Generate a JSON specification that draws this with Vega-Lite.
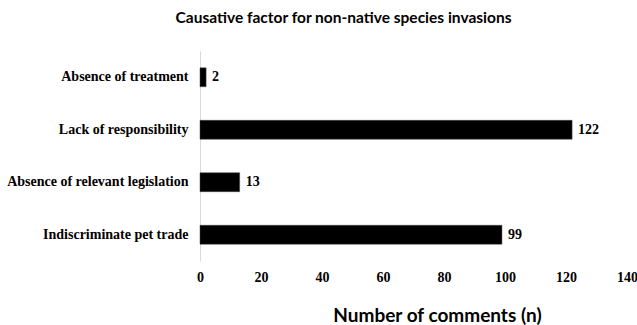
{
  "$schema": "https://vega.github.io/schema/vega-lite/v6.json",
  "autosize": {"type": "none"},
  "width": 427,
  "height": 210,
  "padding": {"left": 200, "top": 51, "right": 10, "bottom": 64},
  "background": "white",
  "title": {
    "text": "Causative factor for non-native species invasions",
    "font": "Lato",
    "fontSize": 15.5,
    "fontWeight": "bold",
    "color": "#000000",
    "anchor": "middle",
    "dx": -70,
    "offset": 25
  },
  "data": {
    "values": [
      {"factor": "Absence of treatment", "n": 2},
      {"factor": "Lack of responsibility", "n": 122},
      {"factor": "Absence of relevant legislation", "n": 13},
      {"factor": "Indiscriminate pet trade", "n": 99}
    ]
  },
  "encoding": {
    "y": {
      "field": "factor",
      "type": "nominal",
      "sort": null,
      "scale": {"paddingInner": 0.64, "paddingOuter": 0.32},
      "axis": {
        "title": null,
        "labelFont": "Liberation Serif",
        "labelFontSize": 14,
        "labelFontWeight": "bold",
        "labelColor": "#000000",
        "labelPadding": 12,
        "labelLimit": 250,
        "ticks": false,
        "domain": true,
        "domainColor": "#d9d9d9",
        "domainWidth": 1,
        "grid": false
      }
    },
    "x": {
      "field": "n",
      "type": "quantitative",
      "scale": {"domain": [0, 140], "nice": false},
      "axis": {
        "values": [0, 20, 40, 60, 80, 100, 120, 140],
        "title": "Number of comments (n)",
        "titleFont": "Lato",
        "titleFontSize": 19,
        "titleFontWeight": "bold",
        "titleColor": "#000000",
        "titleX": 237,
        "titleY": 54,
        "titleAlign": "center",
        "titleBaseline": "middle",
        "labelFont": "Liberation Serif",
        "labelFontSize": 14,
        "labelFontWeight": "bold",
        "labelColor": "#000000",
        "labelPadding": 9,
        "labelFlush": false,
        "ticks": false,
        "domain": false,
        "grid": false
      }
    }
  },
  "layer": [
    {
      "mark": {"type": "bar", "color": "#000000", "stroke": "#444444", "strokeWidth": 0.5}
    },
    {
      "mark": {
        "type": "text",
        "align": "left",
        "baseline": "middle",
        "dx": 6,
        "font": "Liberation Serif",
        "fontSize": 14,
        "fontWeight": "bold",
        "color": "#000000"
      },
      "encoding": {"text": {"field": "n", "type": "quantitative"}}
    }
  ],
  "config": {"view": {"stroke": null}}
}
